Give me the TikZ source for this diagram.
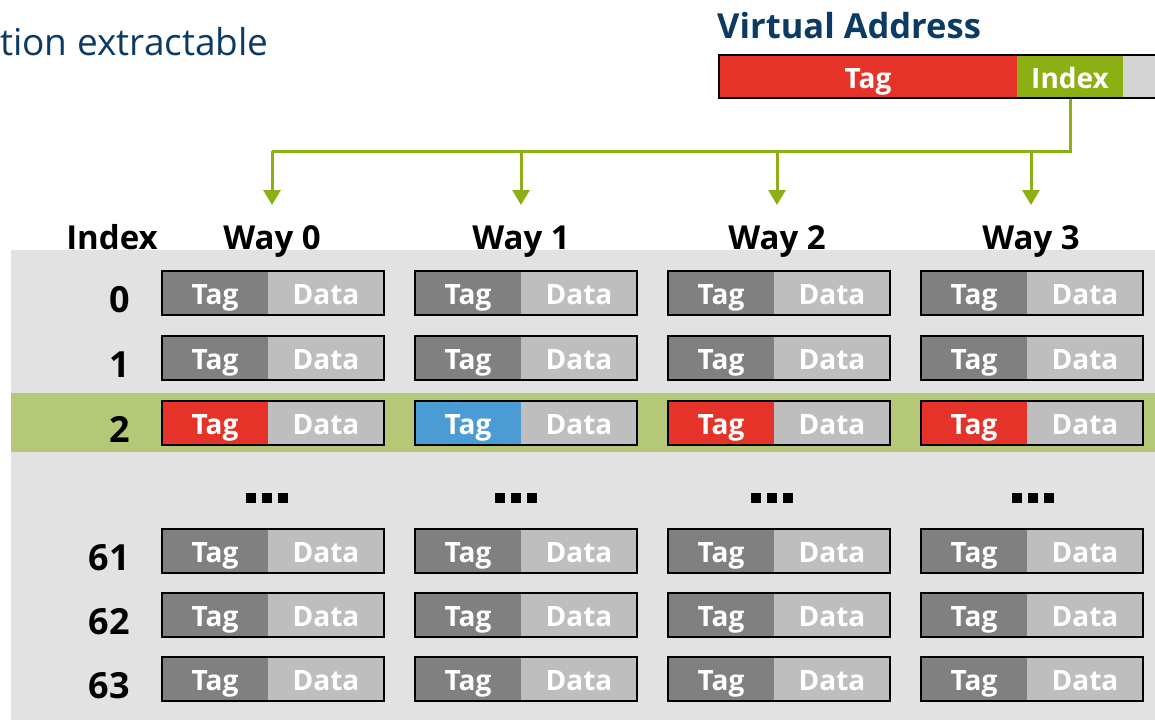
\documentclass[tikz,border=0pt]{standalone}
\usepackage{fontspec}
\setmainfont{Open Sans}
\IfFontExistsTF{Open Sans SemiBold}
  {\newfontfamily\medfont{Open Sans SemiBold}}
  {\newcommand\medfont{\bfseries}}
\usetikzlibrary{arrows.meta}

\definecolor{navy}{HTML}{0B3A63}
\definecolor{tagred}{HTML}{E5332A}
\definecolor{idxgreen}{HTML}{8CB014}
\definecolor{band}{HTML}{B5C878}
\definecolor{bggray}{HTML}{E2E2E2}
\definecolor{taggray}{HTML}{808080}
\definecolor{datagray}{HTML}{BEBEBE}
\definecolor{vagray}{HTML}{D4D4D4}
\definecolor{hitblue}{HTML}{4B9BD5}

\newcommand\cellfont{\medfont\fontsize{28}{32}\selectfont}
\newcommand\rowfont{\bfseries\fontsize{36}{40}\selectfont}
\newcommand\headfont{\bfseries\fontsize{33}{38}\selectfont}

\begin{document}
\begin{tikzpicture}[x=1pt,y=-1pt,
  tagpart/.style={minimum width=106pt,minimum height=44pt,inner sep=0pt,
    outer sep=0pt,text=white,font=\cellfont,text height=23pt,text depth=0pt},
  datapart/.style={tagpart,fill=datagray,minimum width=116pt},
  cellframe/.style={draw=black,line width=2.5pt},
  rowlabel/.style={anchor=base east,font=\rowfont,inner sep=0pt},
  head/.style={anchor=base,font=\headfont,inner sep=0pt},
  bus/.style={draw=idxgreen,line width=3pt},
  drop/.style={bus,-{Triangle[width=17pt,length=15pt]}},
  sqdot/.style={fill=black,minimum size=10.5pt,inner sep=0pt,outer sep=0pt}
]
\useasboundingbox (0,0) rectangle (1155,720);

% backgrounds
\fill[bggray] (11,250) rectangle (1155,720);
\fill[band] (11,393) rectangle (1155,452);

% caption fragment and address title
\node[anchor=base west,inner sep=0pt,text=navy,font=\fontsize{37}{42}\selectfont]
  (cap) at (0,55) {tion extractable};
\node[anchor=base west,inner sep=0pt,text=navy,font=\bfseries\fontsize{34.5}{40}\selectfont]
  (vatitle) at (717,38) {Virtual Address};

% virtual address fields
\fill[tagred] (719,55) rectangle (1017,98);
\fill[idxgreen] (1017,55) rectangle (1123,98);
\fill[vagray] (1123,55) rectangle (1160,98);
\draw[line width=2.5pt] (1160,55) -- (719,55) -- (719,98) -- (1160,98);
\node[anchor=base,inner sep=0pt,text=white,font=\cellfont] (vatag) at (868,88) {Tag};
\node[anchor=base,inner sep=0pt,text=white,font=\cellfont] (vaidx) at (1070,88) {Index};
\coordinate (idxout) at (1070,99);

% column headers
\node[head] (hidx) at (112,249) {Index};
\foreach \w/\cx in {0/272,1/521,2/777,3/1031}{
  \node[head] (way\w) at (\cx,249) {Way \w};
  \coordinate (j\w) at (\cx,151);
  \coordinate (a\w) at (\cx,205);
}

% index bus
\draw[bus] (idxout) |- (j0);
\foreach \w in {0,1,2,3}{
  \draw[drop] (j\w) -- (a\w);
}

% cache lines
\foreach \r/\yc in {0/293,1/358,2/423,61/551,62/615,63/679}{
  \node[rowlabel] (row\r) at (130,\yc+19) {\r};
  \foreach \w/\x in {0/162,1/415,2/668,3/921}{
    \ifnum\r=2
      \ifnum\w=1 \def\tagfill{hitblue}\else\def\tagfill{tagred}\fi
    \else
      \def\tagfill{taggray}
    \fi
    \node[tagpart,fill=\tagfill,anchor=west] (t\r-\w) at (\x,\yc) {Tag};
    \node[datapart,anchor=west] (d\r-\w) at (t\r-\w.east) {Data};
    \draw[cellframe] (t\r-\w.north west) rectangle (d\r-\w.south east);
  }
}

% elided rows
\foreach \w/\dx in {0/267,1/516,2/772,3/1033}{
  \node[sqdot] (e\w a) at (\dx-16,498) {};
  \node[sqdot] (e\w b) at (\dx,498) {};
  \node[sqdot] (e\w c) at (\dx+16,498) {};
}
\end{tikzpicture}
\end{document}
